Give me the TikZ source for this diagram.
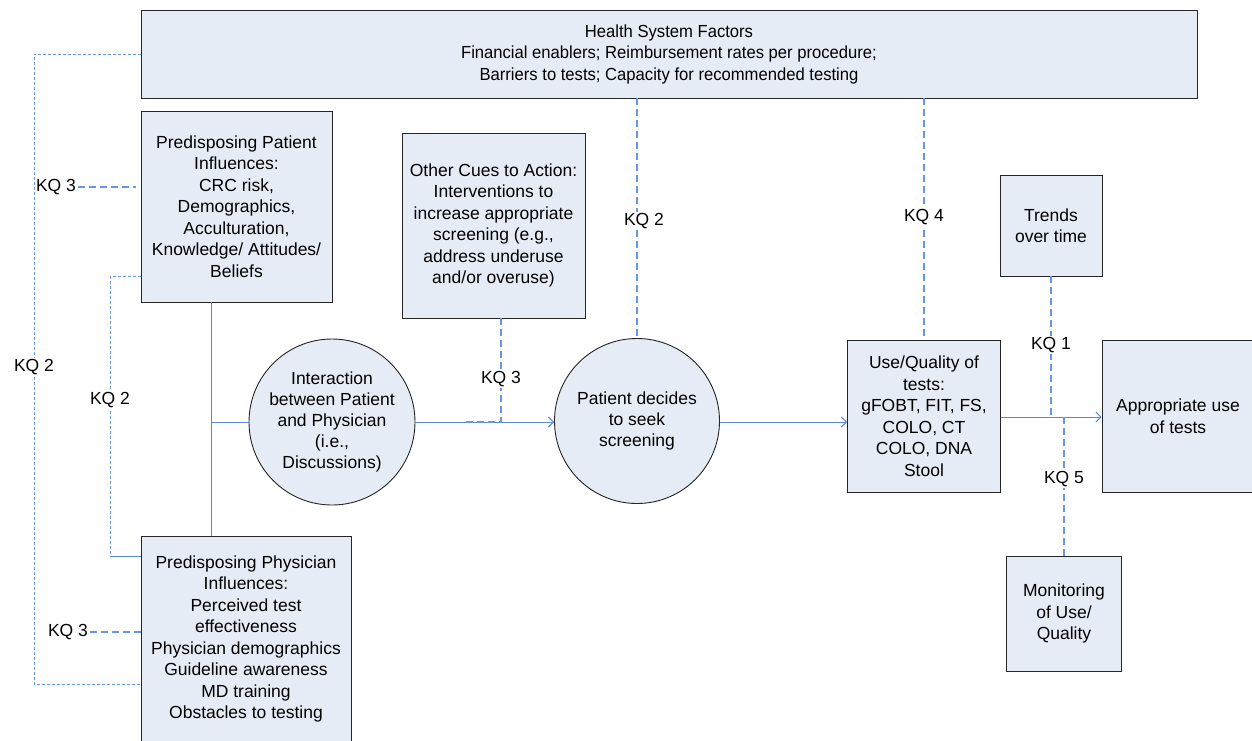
\documentclass[tikz,border=0pt]{standalone}
\usepackage{fontspec}
\setmainfont{Liberation Sans}
\newfontfamily\narrowfont[FakeStretch=0.95]{Liberation Sans}
\usetikzlibrary{positioning,arrows.meta}
\definecolor{boxfill}{RGB}{230,236,246}
\definecolor{kqblue}{RGB}{92,136,214}
\definecolor{kqdash}{RGB}{105,150,228}

\begin{document}
\begin{tikzpicture}[x=1pt,y=1pt,yscale=-1,
    box/.style={draw=black!85, fill=boxfill, line width=0.9pt, align=center, inner sep=2pt,
                font=\fontsize{17.5}{21.5}\selectfont},
    disc/.style={circle, draw=black!85, fill=boxfill, line width=0.9pt, align=center, inner sep=0pt,
                 font=\fontsize{17.5}{21}\selectfont},
    link/.style={draw=kqblue, line width=1pt},
    kq/.style={draw=kqdash, line width=1.2pt, dash pattern=on 7pt off 4pt},
    kqfine/.style={draw=kqdash, line width=1pt, dash pattern=on 3pt off 2pt},
    tip/.style={-{Straight Barb[length=5pt,width=10pt]}},
    lbl/.style={fill=white, inner sep=1.5pt, font=\fontsize{17.5}{19}\selectfont}]
    \useasboundingbox (0,0) rectangle (1252,740);
    \fill[white] (0,0) rectangle (1252,740);

    % boxes
    \node[box, minimum width=1056pt, minimum height=88pt] (health) at (669,54)
        {{\narrowfont Health System Factors}\\{\narrowfont Financial enablers; Reimbursement rates per procedure;}\\{\narrowfont Barriers to tests; Capacity for recommended testing}};
    \node[box, minimum width=191pt, minimum height=191pt] (patient) at (236.5,206.5)
        {Predisposing Patient\\Influences:\\CRC risk,\\Demographics,\\Acculturation,\\Knowledge/ Attitudes/\\Beliefs};
    \node[box, minimum width=183pt, minimum height=185pt] (cues) at (493.5,225.5)
        {Other Cues to Action:\\Interventions to\\increase appropriate\\screening (e.g.,\\address underuse\\and/or overuse)};
    \node[box, minimum width=102pt, minimum height=101pt] (trends) at (1051,225.5)
        {Trends\\over time};
    \node[box, minimum width=153pt, minimum height=152pt] (use) at (924,416)
        {Use/Quality of\\tests:\\gFOBT, FIT, FS,\\COLO, CT\\COLO, DNA\\Stool};
    \node[box, minimum width=152pt, minimum height=152pt] (approp) at (1178,416)
        {Appropriate use\\of tests};
    \node[box, minimum width=115pt, minimum height=115pt] (monitor) at (1064,613.5)
        {Monitoring\\of Use/\\Quality};
    \node[box, minimum width=210pt, minimum height=206pt] (physician) at (246,639)
        {Predisposing Physician\\Influences:\\Perceived test\\effectiveness\\Physician demographics\\Guideline awareness\\MD training\\Obstacles to testing};

    % circles
    \node[disc, minimum size=166pt] (interact) at (332,422)
        {Interaction\\between Patient\\and Physician\\(i.e.,\\Discussions)};
    \node[disc, minimum size=165pt] (decide) at (637,421)
        {Patient decides\\to seek\\screening};

    % main flow
    \coordinate (spine) at (211,422);
    \draw[link] (spine |- patient.south) -- (spine |- physician.north);
    \draw[link] (spine) -- (interact.west);
    \draw[link, tip] (interact.east) -- (decide.west |- interact.east);
    \draw[link, tip] (decide.east |- interact.east) -- (use.west |- interact.east);
    \draw[link, tip] ([yshift=1pt]use.east) -- ([yshift=1pt]approp.west);

    % key questions, right side
    \coordinate (cuesfoot) at (501,422);
    \draw[kq] (cuesfoot |- cues.south) -- (cuesfoot) -- ++(-35,0);
    \node[lbl] (kq3c) at (501,379) {KQ 3};
    \draw[kq] (decide.north |- health.south) -- (decide.north);
    \node[lbl] (kq2c) at (644,221) {KQ 2};
    \draw[kq] (use.north |- health.south) -- (use.north);
    \node[lbl] (kq4) at (924,217) {KQ 4};
    \draw[kq] (trends.south) -- ([yshift=1pt]trends.south |- use.east);
    \node[lbl] (kq1) at (1051,345) {KQ 1};
    \coordinate (monfoot) at (1064,417);
    \draw[kq] (monitor.north) -- (monfoot);
    \node[lbl] (kq5) at (1064,479) {KQ 5};

    % key questions, left side
    \coordinate (outerleft) at (34,684);
    \draw[kqfine] (health.west) -| (outerleft) -- (outerleft -| physician.west);
    \node[lbl] (kq2a) at (34,367) {KQ 2};
    \coordinate (innerleft) at (110,556);
    \draw[kqfine] ([yshift=-26pt]patient.south west) -| (innerleft);
    \draw[link] (innerleft) -- (innerleft -| physician.west);
    \node[lbl] (kq2b) at (110,400) {KQ 2};
    \node[lbl, fill=none] (kq3a) at (56,187) {KQ 3};
    \draw[kq] (kq3a.east) -- ([xshift=-5pt]kq3a.east -| patient.west);
    \node[lbl, fill=none] (kq3b) at (68,632) {KQ 3};
    \draw[kq] (kq3b.east) -- (kq3b.east -| physician.west);
\end{tikzpicture}
\end{document}
